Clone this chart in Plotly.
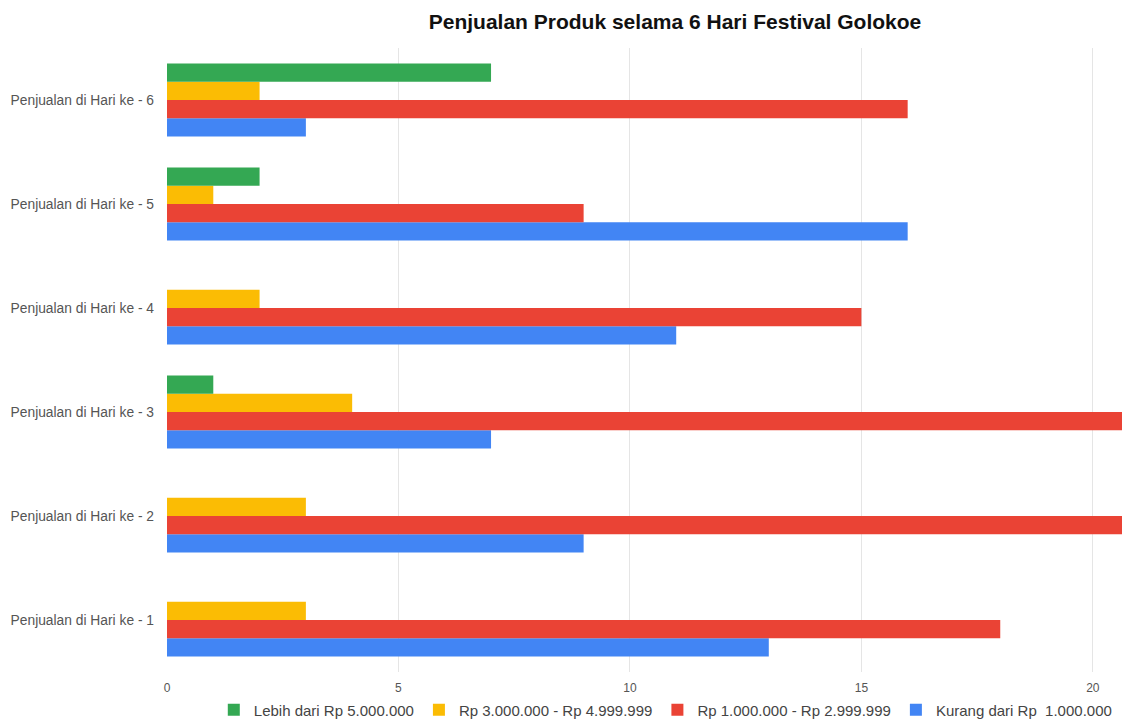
import plotly.graph_objects as go

categories = ["Penjualan di Hari ke - 1", "Penjualan di Hari ke - 2", "Penjualan di Hari ke - 3",
              "Penjualan di Hari ke - 4", "Penjualan di Hari ke - 5", "Penjualan di Hari ke - 6"]
kurang_1jt = [13, 9, 7, 11, 16, 3]
rp_1jt_3jt = [18, 22, 21, 15, 9, 16]
rp_3jt_5jt = [3, 3, 4, 2, 1, 2]
lebih_5jt = [0, 0, 1, 0, 2, 7]

series = [
    ("Kurang dari Rp  1.000.000", kurang_1jt, "#4285f4"),
    ("Rp 1.000.000 - Rp 2.999.999", rp_1jt_3jt, "#ea4335"),
    ("Rp 3.000.000 - Rp 4.999.999", rp_3jt_5jt, "#fbbc04"),
    ("Lebih dari Rp 5.000.000", lebih_5jt, "#34a853"),
]

fig = go.Figure()
for name, vals, col in series:
    fig.add_trace(go.Bar(y=categories, x=vals, name=name, orientation="h",
                         marker=dict(color=col, line=dict(width=0))))

fig.update_layout(
    width=1122, height=719,
    barmode="group", bargap=0.3, bargroupgap=0,
    plot_bgcolor="white", paper_bgcolor="white",
    margin=dict(l=167, r=0, t=48, b=47, autoexpand=False),
    font=dict(family="Liberation Sans, Arial, sans-serif", color="#555555"),
    title=dict(text="<b>Penjualan Produk selama 6 Hari Festival Golokoe</b>",
               x=0.6016, xanchor="center", y=1 - 22/719, yanchor="middle",
               font=dict(size=21, color="#111111")),
    legend=dict(orientation="h", traceorder="reversed", x=0.049, xanchor="left",
                yref="container", y=9/719, yanchor="middle",
                font=dict(size=15, color="#444444"), itemwidth=30),
    showlegend=True,
)
fig.update_xaxes(range=[0, 20.63], tickvals=[0, 5, 10, 15, 20], showgrid=True,
                 gridcolor="#e5e5e5", gridwidth=1, zeroline=False, showline=False,
                 tickfont=dict(size=12, color="#555555"), ticklabelstandoff=7)
fig.update_yaxes(showgrid=False, zeroline=False, showline=False,
                 tickfont=dict(size=13.8, color="#555555"), ticklabelstandoff=12)

fig.write_html("out.html")
